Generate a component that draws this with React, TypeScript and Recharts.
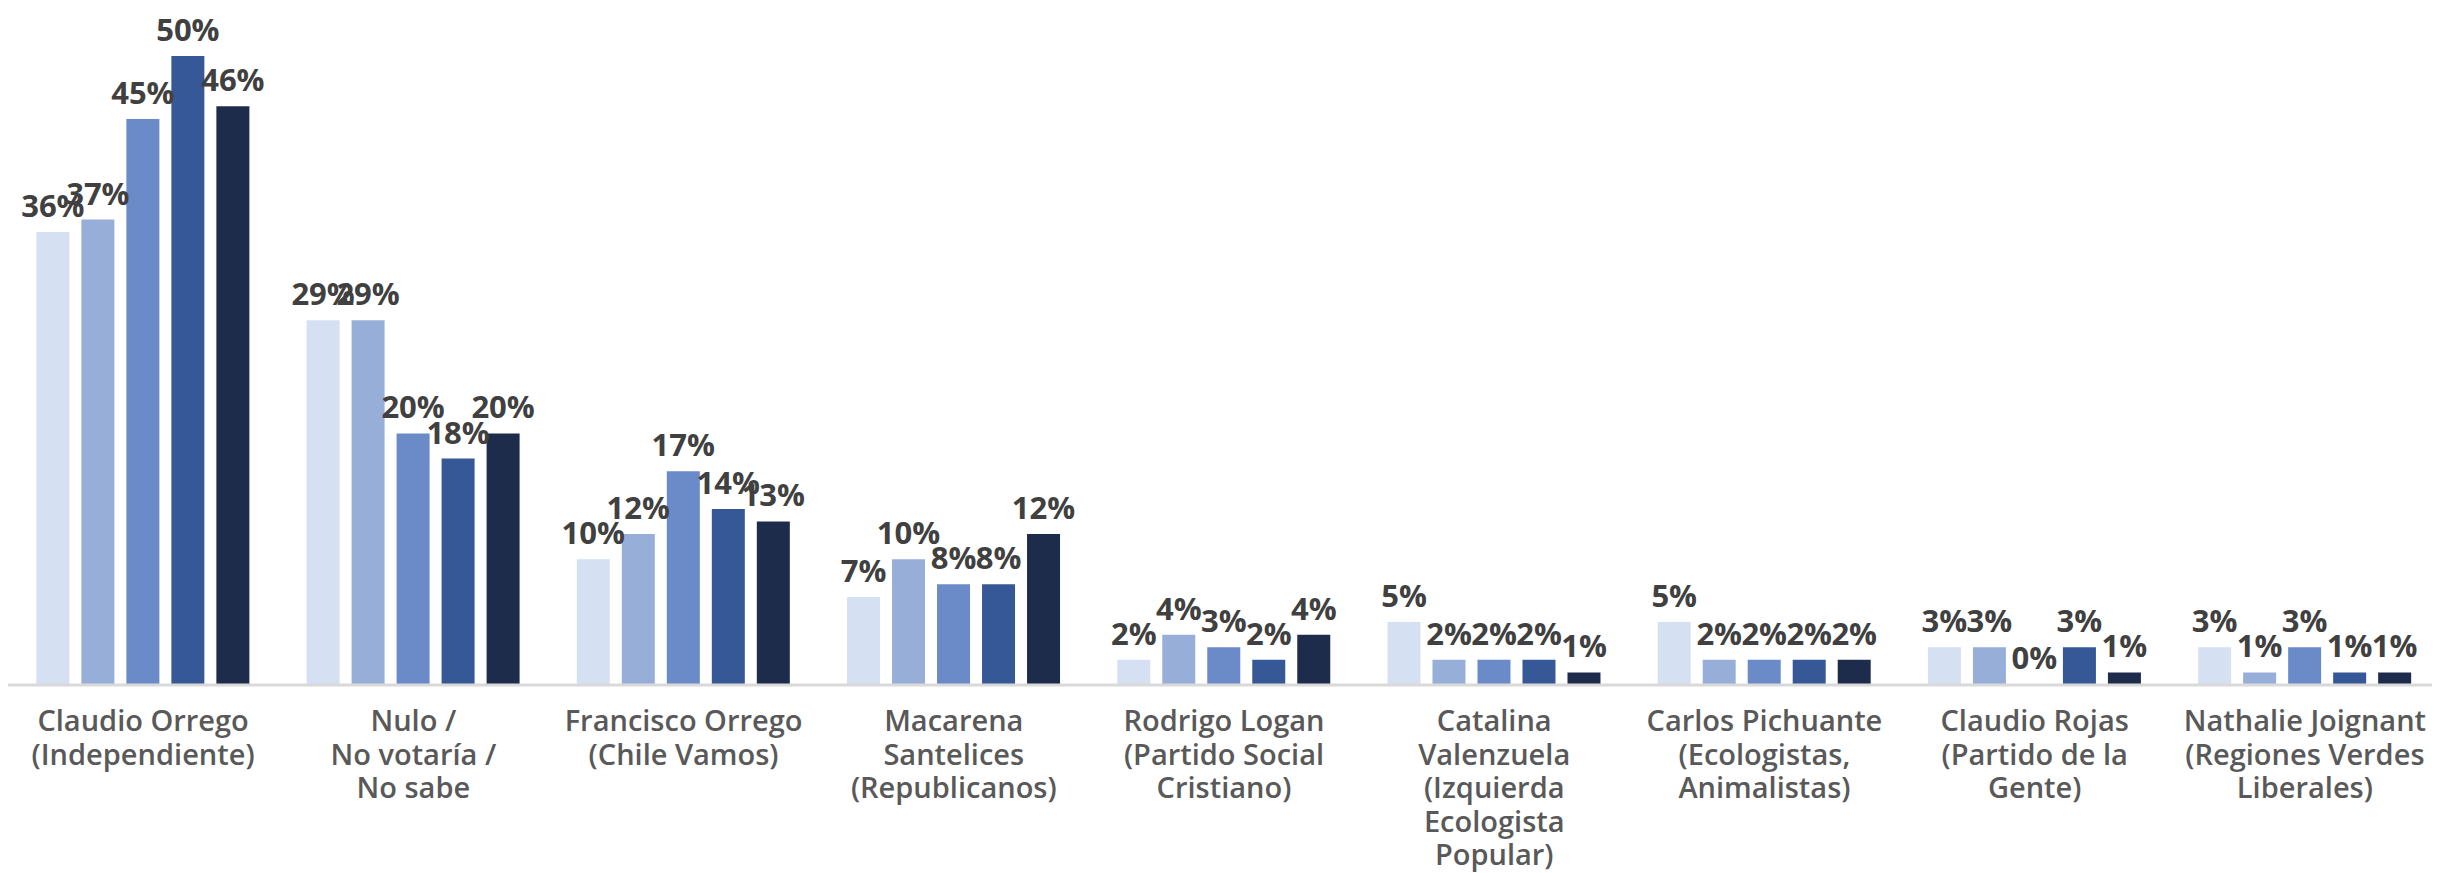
import React from "react";
import { BarChart, Bar, XAxis, YAxis, LabelList } from "recharts";

const categories: string[][] = [
  ["Claudio Orrego", "(Independiente)"],
  ["Nulo /", "No votaría /", "No sabe"],
  ["Francisco Orrego", "(Chile Vamos)"],
  ["Macarena", "Santelices", "(Republicanos)"],
  ["Rodrigo Logan", "(Partido Social", "Cristiano)"],
  ["Catalina", "Valenzuela", "(Izquierda", "Ecologista", "Popular)"],
  ["Carlos Pichuante", "(Ecologistas,", "Animalistas)"],
  ["Claudio Rojas", "(Partido de la", "Gente)"],
  ["Nathalie Joignant", "(Regiones Verdes", "Liberales)"],
];

const series1 = [36, 29, 10, 7, 2, 5, 5, 3, 3];
const series2 = [37, 29, 12, 10, 4, 2, 2, 3, 1];
const series3 = [45, 20, 17, 8, 3, 2, 2, 0, 3];
const series4 = [50, 18, 14, 8, 2, 2, 2, 3, 1];
const series5 = [46, 20, 13, 12, 4, 1, 2, 1, 1];

const seriesKeys = ["s1", "s2", "s3", "s4", "s5"];
const seriesColors = ["#D5E1F3", "#97AED9", "#6A8AC8", "#365896", "#1D2C4A"];
const seriesValues = [series1, series2, series3, series4, series5];

const data = categories.map((lines, i) => {
  const row: Record<string, any> = { name: lines.join("\n") };
  seriesKeys.forEach((k, j) => {
    row[k] = seriesValues[j][i];
  });
  return row;
});

const FONT = "'Open Sans', 'DejaVu Sans', sans-serif";

const CategoryTick = (props: any) => {
  const { x, y, payload } = props;
  const lines = String(payload.value).split("\n");
  return (
    <g transform={`translate(${x},${y})`}>
      <text
        textAnchor="middle"
        fill="#595959"
        fontFamily={FONT}
        fontWeight={600}
        fontSize={29}
      >
        {lines.map((l, i) => (
          <tspan key={i} x={0} dy={i === 0 ? 38 : 33.5}>
            {l}
          </tspan>
        ))}
      </text>
    </g>
  );
};

const ValueLabel = (props: any) => {
  const { x, y, width, height, value } = props;
  if (value === undefined || value === null) return null;
  const top = Math.min(Number(y), Number(y) + Number(height || 0));
  return (
    <text
      x={Number(x) + Number(width) / 2}
      y={top - 15}
      textAnchor="middle"
      fill="#404040"
      fontFamily={FONT}
      fontWeight={700}
      fontSize={31}
    >
      {`${value}%`}
    </text>
  );
};

export default function App() {
  return (
    <BarChart
      width={2432}
      height={865}
      data={data}
      margin={{ top: 48, right: 0, bottom: 0, left: 0 }}
      barCategoryGap="10.5%"
      barGap={12}
    >
      <XAxis
        dataKey="name"
        interval={0}
        tickLine={false}
        axisLine={{ stroke: "#D9D9D9", strokeWidth: 3 }}
        tick={<CategoryTick />}
        height={188}
      />
      <YAxis hide domain={[0, 50]} />
      {seriesKeys.map((k, j) => (
        <Bar
          key={k}
          dataKey={k}
          fill={seriesColors[j]}
          minPointSize={1}
          isAnimationActive={false}
        >
          <LabelList dataKey={k} content={<ValueLabel />} />
        </Bar>
      ))}
    </BarChart>
  );
}
